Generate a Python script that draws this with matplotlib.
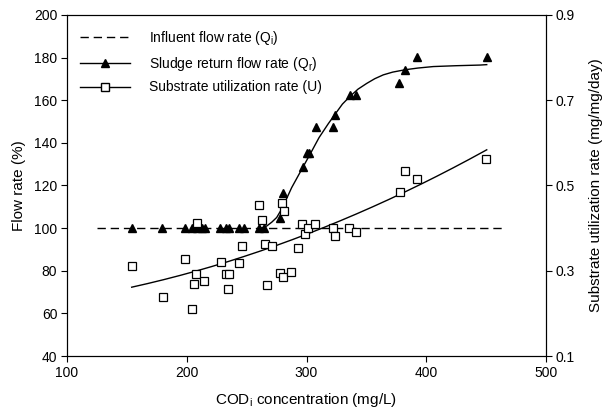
import numpy as np
import matplotlib
matplotlib.use("Agg")
import matplotlib.pyplot as plt

plt.rcParams['font.family'] = ['Liberation Sans', 'DejaVu Sans']
plt.rcParams['mathtext.fontset'] = 'custom'
plt.rcParams['mathtext.rm'] = 'Liberation Sans'

# influent flow rate (dashed, %)
qi_x = [125, 465]
qi_y = [100, 100]

# sludge return flow rate (%), triangles
qr_x = [154.0, 179.6, 198.5, 204.1, 208.3, 212.5, 215.2, 227.8, 232.8, 235.5,
        243.9, 247.8, 260.6, 264.5, 277.9, 280.6, 296.8, 300.2, 302.0, 307.9,
        322.4, 323.8, 336.3, 341.3, 377.5, 382.3, 392.0, 450.5]
qr_y = [100, 100, 100, 100, 100, 100, 100, 100, 100, 100,
        100, 100, 100, 100, 104.6, 116.6, 128.8, 135.1, 135.1, 147.3,
        147.3, 153.1, 162.5, 162.5, 168.3, 174.2, 180.5, 180.5]

# sludge return curve
qr_fit_x = [262, 266.8, 271, 275.1, 279.3, 283.5, 287.6, 292.5, 297.3, 302.9, 310.5,
            318.2, 323.8, 330, 336.3, 343, 350.3, 357, 364.1, 372, 382.3, 393, 405.9,
            425, 444.9, 450.5]
qr_fit_y = [100, 101.0, 102.8, 105.0, 109.0, 114.0, 119.0, 124.0, 128.9, 134.6, 142.5,
            149.0, 153.4, 158.2, 161.8, 165.2, 167.9, 170.1, 171.9, 173.2, 174.3, 175.1, 175.8,
            176.2, 176.5, 176.7]

# substrate utilization rate (mg/mg/day), squares
u_x = [154.0, 179.9, 198.5, 204.1, 206.1, 207.5, 208.8, 214.4, 228.3, 232.8,
       235.5, 234.7, 243.6, 246.4, 260.6, 262.6, 265.3, 266.8, 271.4, 277.9,
       279.3, 280.6, 281.5, 286.8, 292.6, 296.0, 298.7, 301.5, 307.1, 322.4,
       323.8, 335.7, 341.3, 378.1, 382.3, 392.0, 449.9]
u_y = [0.311, 0.238, 0.327, 0.210, 0.269, 0.293, 0.412, 0.277, 0.320, 0.292,
       0.292, 0.257, 0.318, 0.357, 0.455, 0.419, 0.363, 0.267, 0.357, 0.294,
       0.458, 0.286, 0.439, 0.296, 0.354, 0.410, 0.387, 0.400, 0.410, 0.400,
       0.382, 0.400, 0.390, 0.484, 0.534, 0.516, 0.562]

# U fitted curve points
u_fit_x = [154, 161, 177.7, 208.3, 227.8, 252.8, 266.8, 300.2, 322.4, 340.5, 353, 378.1, 435.1, 450.5]
u_fit_y = [0.261, 0.267, 0.279, 0.293, 0.322, 0.337, 0.349, 0.388, 0.404, 0.435, 0.447, 0.484, 0.560, 0.582]

fig = plt.figure(figsize=(6.06, 4.16), dpi=100)
ax = fig.add_axes([0.1106, 0.1442, 0.7904, 0.8198])
ax2 = ax.twinx()

ax.plot(qi_x, qi_y, color='black', lw=1.0, ls=(0, (6, 3.5)))
ax.plot(qr_fit_x, qr_fit_y, color='black', lw=1.0)
ax.plot(qr_x, qr_y, ls='none', marker='^', ms=5.8, color='black')

# smooth U curve through the read points
c = np.polyfit(u_fit_x, u_fit_y, 2)
xx = np.linspace(u_fit_x[0], u_fit_x[-1], 200)
ax2.plot(xx, np.polyval(c, xx), color='black', lw=1.0)
ax2.plot(u_x, u_y, ls='none', marker='s', ms=6.3, mfc='white', mec='black', mew=0.9)

ax.set_xlim(100, 500)
ax.set_ylim(40, 200)
ax2.set_ylim(0.1, 0.9)
ax.set_xticks([100, 200, 300, 400, 500])
ax.set_yticks(range(40, 201, 20))
ax2.set_yticks([0.1, 0.3, 0.5, 0.7, 0.9])
for a in (ax, ax2):
    a.tick_params(direction='out', length=4, width=0.8, labelsize=10, pad=3)

ax.set_xlabel('COD$_\\mathregular{i}$ concentration (mg/L)', fontsize=11, labelpad=8)
ax.set_ylabel('Flow rate (%)', fontsize=11, labelpad=6)
ax2.set_ylabel('Substrate utilization rate (mg/mg/day)', fontsize=11, labelpad=10)

# legend
h1, = ax.plot([], [], color='black', lw=1.0, ls=(0, (6, 3.5)))
h2, = ax.plot([], [], color='black', lw=1.0, marker='^', ms=5.8)
h3, = ax.plot([], [], color='black', lw=1.0, marker='s', ms=6.3, mfc='white', mec='black')
ax.legend([h1, h2, h3],
          ['Influent flow rate (Q$_\\mathregular{i}$)',
           'Sludge return flow rate (Q$_\\mathregular{r}$)',
           'Substrate utilization rate (U)'],
          loc='upper left', frameon=False, fontsize=10, handlelength=3.6,
          handletextpad=1.4, labelspacing=0.55, bbox_to_anchor=(0.0, 0.995))

fig.savefig('out.png', dpi=100)
